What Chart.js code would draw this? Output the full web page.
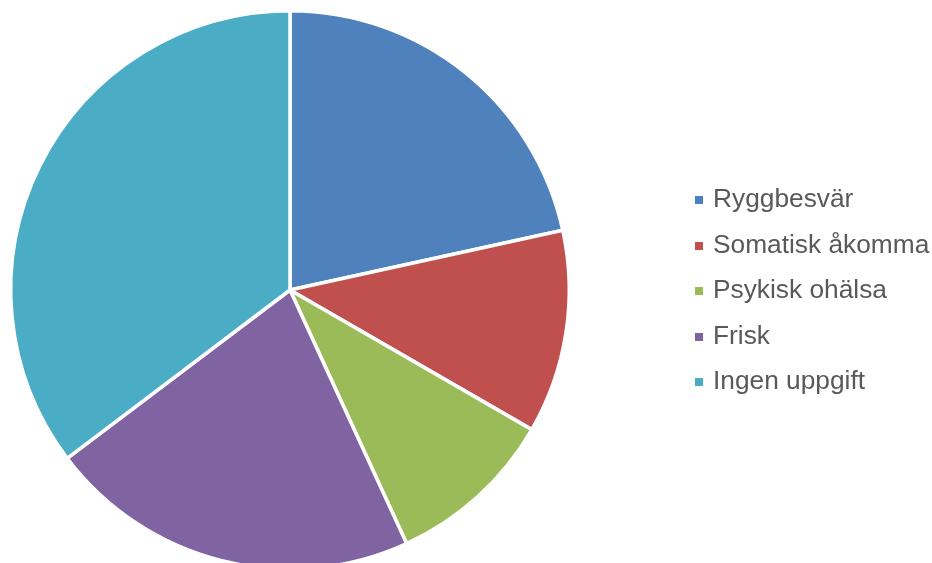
<!DOCTYPE html>
<html>
<head>
<meta charset="utf-8">
<script src="https://cdn.jsdelivr.net/npm/chart.js@4.4.1/dist/chart.umd.min.js"></script>
<style>
  html, body { margin: 0; padding: 0; background: #fff; overflow: hidden; }
  #wrap { position: relative; width: 932px; height: 563px; overflow: hidden; }
  #pie { position: absolute; left: 0; top: 0; }
  #legend {
    position: absolute; left: 695px; top: 176px; margin: 0; padding: 0;
    list-style: none; font-family: "Liberation Sans", Arial, sans-serif;
    font-size: 26.3px; color: #595959; white-space: nowrap;
  }
  #legend li { height: 45.6px; line-height: 45.6px; }
  #legend .box { display: inline-block; width: 8px; height: 8px; margin-right: 10px; vertical-align: middle; }
</style>
</head>
<body>
<div id="wrap">
  <canvas id="pie" width="932" height="584"></canvas>
  <ul id="legend"></ul>
</div>
<script>
document.addEventListener('DOMContentLoaded', function () {
    // --- data ---
    const labels = ['Ryggbesvär', 'Somatisk åkomma', 'Psykisk ohälsa', 'Frisk', 'Ingen uppgift'];
    const values = [22, 12, 10, 22, 36];
    const colors = ['#4F81BD', '#C0504D', '#9BBB59', '#8064A2', '#4BACC6'];

    // --- pie ---
    const ctx = document.getElementById('pie').getContext('2d');
    new Chart(ctx, {
        type: 'pie',
        data: {
            labels: labels,
            datasets: [{
                data: values,
                backgroundColor: colors,
                borderColor: '#ffffff',
                borderWidth: 3.5,
                hoverOffset: 0
            }]
        },
        options: {
            responsive: false,
            animation: false,
            layout: { padding: { left: 9, top: 9, right: 361, bottom: 13 } },
            plugins: {
                legend: { display: false },
                tooltip: { enabled: false }
            }
        }
    });

    // --- legend (html) ---
    const legendEl = document.getElementById('legend');
    labels.forEach((label, i) => {
        const li = document.createElement('li');
        const box = document.createElement('span');
        box.className = 'box';
        box.style.background = colors[i];
        li.appendChild(box);
        li.appendChild(document.createTextNode(label));
        legendEl.appendChild(li);
    });
});
</script>
</body>
</html>
